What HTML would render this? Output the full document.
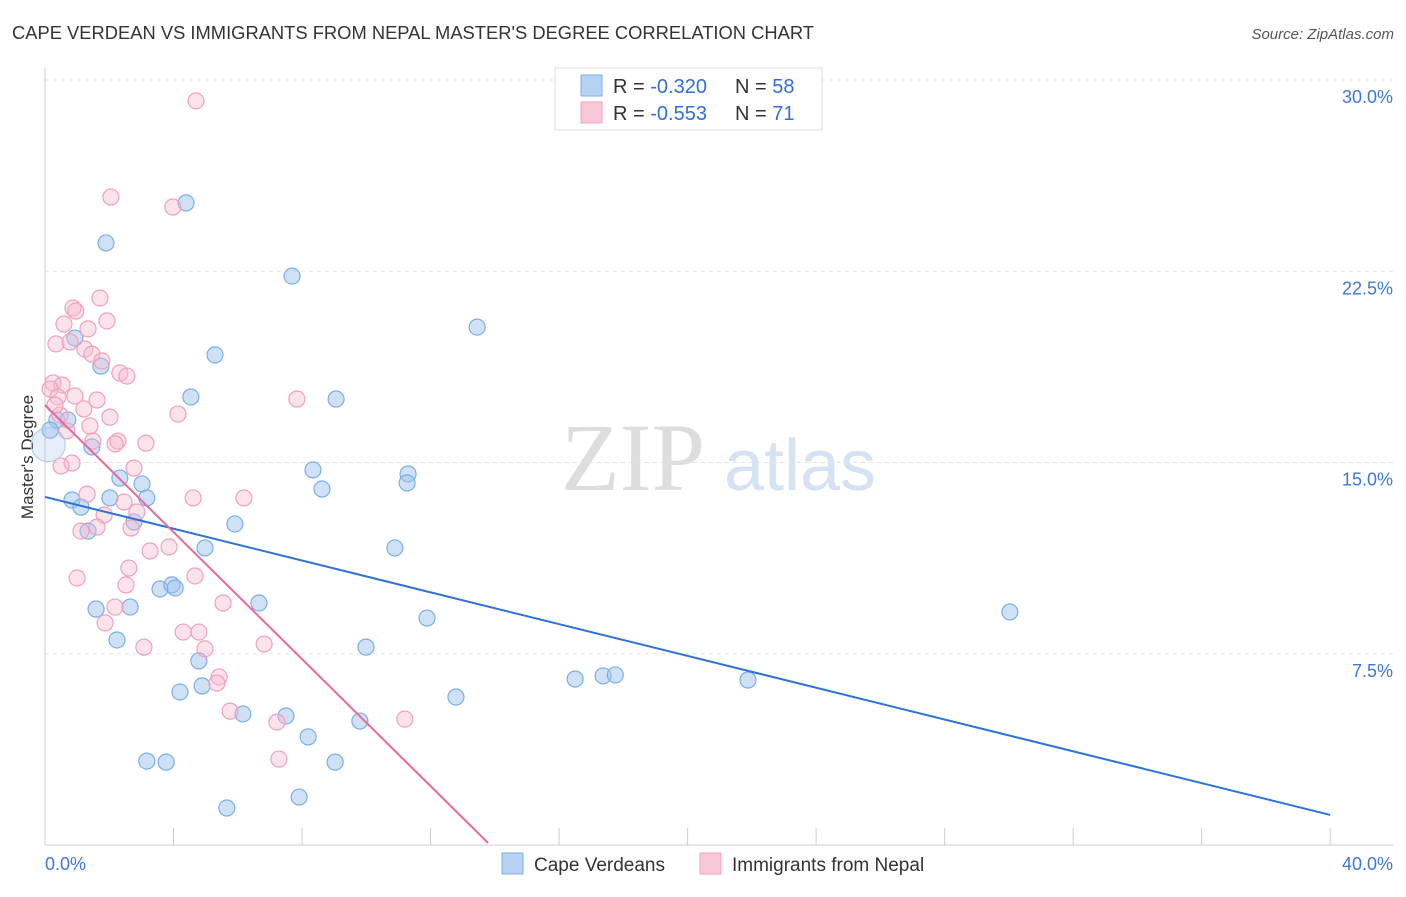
<!DOCTYPE html>
<html><head><meta charset="utf-8"><style>
body{margin:0;background:#fff;font-family:"Liberation Sans",sans-serif}
svg text{font-family:"Liberation Sans",sans-serif}
</style></head><body>
<svg id="c" width="1406" height="892">
<text x="12" y="39" font-size="18" fill="#333" textLength="802" lengthAdjust="spacingAndGlyphs">CAPE VERDEAN VS IMMIGRANTS FROM NEPAL MASTER'S DEGREE CORRELATION CHART</text>
<text x="1394" y="39" font-size="15" fill="#555" text-anchor="end" font-style="italic">Source: ZipAtlas.com</text>
<text x="33" y="457" font-size="17" fill="#333" text-anchor="middle" transform="rotate(-90 33 457)">Master's Degree</text>
<g>
<text x="633" y="490" font-size="96" fill="#ddd" text-anchor="middle" font-family="Liberation Serif" style="font-family:'Liberation Serif',serif">ZIP</text>
<text x="800" y="490" font-size="72" fill="#d4e2f4" text-anchor="middle">atlas</text></g>
<g id="grid"></g><g id="pts"></g><g id="lines"></g>
<g>
<rect x="555" y="68" width="267" height="62" fill="#fff" stroke="#ddd"/>
<rect x="581" y="75" width="21" height="21" fill="#b8d2f4" stroke="#7aaee8"/>
<rect x="581" y="102" width="21" height="21" fill="#f9c8d8" stroke="#f0a0bc"/>
<text x="613" y="93" font-size="20" fill="#333">R = <tspan fill="#2f6fd6">-0.320</tspan></text>
<text x="735" y="93" font-size="20" fill="#333">N = <tspan fill="#2f6fd6">58</tspan></text>
<text x="613" y="120" font-size="20" fill="#333">R = <tspan fill="#2f6fd6">-0.553</tspan></text>
<text x="735" y="120" font-size="20" fill="#333">N =  <tspan fill="#2f6fd6">71</tspan></text></g>
<g>
<rect x="502" y="853" width="21" height="21" fill="#b8d2f4" stroke="#7aaee8"/>
<text x="534" y="871" font-size="19" fill="#333">Cape Verdeans</text>
<rect x="700" y="853" width="21" height="21" fill="#f9c8d8" stroke="#f0a0bc"/>
<text x="732" y="871" font-size="19" fill="#333">Immigrants from Nepal</text></g>
</svg>
<script>
const yTicks=[7.5,15,22.5,30];
const yTickLabels=["7.5%","15.0%","22.5%","30.0%"];
const blueX=[4.39,1.90,7.69,13.45,0.93,5.29,1.74,4.54,9.06,0.37,0.71,0.16,1.46,8.34,11.30,11.27,2.33,3.02,8.62,0.84,2.02,3.17,1.12,2.77,5.91,1.34,4.98,10.89,3.58,3.95,4.05,30.03,1.59,2.65,6.66,11.89,2.24,9.99,4.79,16.50,17.37,17.75,21.88,4.20,4.89,12.79,6.16,7.50,9.80,8.19,3.17,3.77,9.03,5.66,7.91];
const blueY=[25.18,23.61,22.31,20.31,19.88,19.22,18.78,17.57,17.49,16.67,16.67,16.27,15.61,14.71,14.55,14.20,14.39,14.16,13.96,13.53,13.61,13.61,13.25,12.67,12.59,12.31,11.65,11.65,10.04,10.20,10.08,9.14,9.25,9.33,9.49,8.90,8.04,7.76,7.22,6.51,6.63,6.67,6.47,6.00,6.24,5.80,5.14,5.06,4.86,4.24,3.29,3.25,3.25,1.45,1.88];
const pinkX=[4.70,2.05,3.98,1.71,0.87,0.96,1.93,0.59,1.34,0.34,0.78,1.24,1.46,1.77,2.33,2.55,0.25,0.53,0.16,0.40,7.84,0.93,1.62,1.21,2.02,4.14,0.68,1.40,2.27,3.14,2.18,1.49,0.84,0.50,2.77,1.31,4.61,6.19,2.46,2.86,1.84,1.62,1.12,2.68,3.27,3.86,1.00,2.61,4.67,2.52,5.54,2.18,1.87,4.30,4.79,3.08,4.98,6.82,5.42,5.35,5.76,11.20,7.22,7.28,0.47,0.31];
const pinkY=[29.18,25.41,25.02,21.45,21.06,20.94,20.55,20.43,20.24,19.65,19.73,19.45,19.25,18.98,18.51,18.39,18.12,18.04,17.88,17.57,17.49,17.61,17.45,17.10,16.78,16.90,16.24,16.43,15.84,15.76,15.73,15.84,14.98,14.86,14.78,13.76,13.61,13.61,13.45,13.06,12.94,12.47,12.31,12.43,11.53,11.69,10.47,10.86,10.55,10.20,9.49,9.33,8.71,8.35,8.35,7.76,7.69,7.88,6.59,6.35,5.25,4.94,4.82,3.37,16.86,17.25];
const blueTrend=[[0,13.65],[40,1.18]];
const pinkTrend=[[0,17.25],[13.79,0.08]];
const NS="http://www.w3.org/2000/svg";
const xs=v=>45+v*32.13, ys=v=>845-v*25.5;
function mk(p,t,a){const e=document.createElementNS(NS,t);for(const k in a)e.setAttribute(k,a[k]);document.getElementById(p).appendChild(e);return e;}
yTicks.forEach((t,i)=>{
 const l=mk('grid','line',{x1:45,x2:1393,y1:ys(t),y2:ys(t),stroke:'#e2e2e2','stroke-dasharray':'4,4'});
 
 
 const tx=mk('grid','text',{x:1393,y:ys(t)+23,'font-size':18,fill:'#3d78d8','text-anchor':'end'});tx.textContent=yTickLabels[i];
 
 
});
const g0=mk('grid','line',{x1:45,x2:1393,y1:845,y2:845,stroke:'#ccc'});
const g1=mk('grid','line',{x1:45,x2:45,y1:68,y2:845,stroke:'#ccc'});
for(let i=0;i<=10;i++){const t=mk('grid','line',{x1:xs(i*4),x2:xs(i*4),y1:828,y2:845,stroke:'#ccc'});
 
 }
[["0.0%",45,'start'],["40.0%",1393,'end']].forEach(a=>{const t=mk('grid','text',{x:a[1],y:870,'font-size':18,fill:'#3d78d8','text-anchor':a[2]});t.textContent=a[0];
 
 });
blueX.forEach((x,i)=>{const c=mk('pts','circle',{cx:xs(x),cy:ys(blueY[i]),r:8,fill:'rgba(160,196,240,0.5)',stroke:'#7aaee8','stroke-width':1.2});
 
 });
pinkX.forEach((x,i)=>{const c=mk('pts','circle',{cx:xs(x),cy:ys(pinkY[i]),r:8,fill:'rgba(248,185,205,0.4)',stroke:'#f0a0bc','stroke-width':1.2});
 
 });
const big=mk('pts','circle',{cx:xs(0.1),cy:ys(15.7),r:17,fill:'rgba(170,200,240,0.3)',stroke:'#a8c8ee'});


const bl=mk('lines','line',{x1:xs(blueTrend[0][0]),y1:ys(blueTrend[0][1]),x2:xs(blueTrend[1][0]),y2:ys(blueTrend[1][1]),stroke:'#2f72d6','stroke-width':2});


const pl=mk('lines','line',{x1:xs(pinkTrend[0][0]),y1:ys(pinkTrend[0][1]),x2:xs(pinkTrend[1][0]),y2:ys(pinkTrend[1][1]),stroke:'#e8689a','stroke-width':2});


</script>
</body></html>
